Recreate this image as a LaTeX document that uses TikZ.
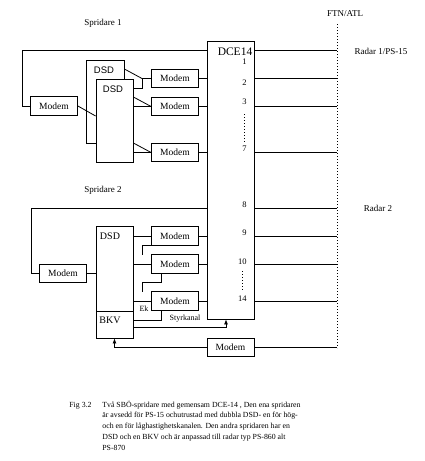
\documentclass[tikz,border=0pt]{standalone}
\usepackage{fontspec}
\setmainfont{Liberation Serif}
\newfontfamily\dsdfont{Liberation Sans}
\usetikzlibrary{arrows.meta}

\begin{document}
\begin{tikzpicture}[
  x=1pt, y=-1pt,
  line width=0.8pt,
  box/.style={draw, fill=white, inner sep=0pt},
  modem/.style={box, minimum width=47pt, minimum height=18.5pt, font=\fontsize{9.5}{10}\selectfont},
  lbl/.style={inner sep=0pt, font=\fontsize{9}{10}\selectfont},
  boxtitle/.style={inner sep=0pt, font=\fontsize{10}{11}\selectfont},
  num/.style={anchor=east, inner sep=0pt, font=\fontsize{8.5}{9}\selectfont},
  smalltext/.style={inner sep=0pt, font=\fontsize{8}{9}\selectfont},
  captext/.style={anchor=base west, inner sep=0pt, font=\fontsize{7.8}{9}\selectfont},
  dotline/.style={dash pattern=on 1pt off 2pt},
  >={Latex[length=5pt,width=4pt]}
]
  \useasboundingbox (0,0) rectangle (425,461);

  % DCE-14 and the FTN/ATL boundary
  \node[box, minimum width=47pt, minimum height=278pt] (dce) at (230.5,180) {};
  \node[inner sep=0pt, font=\fontsize{11.5}{12}\selectfont] (dcename) at (235,52) {DCE14};
  \coordinate (ftntop) at (337,24);
  \coordinate (ftnbot) at (337,348);
  \draw[dotline] (ftntop) -- (ftnbot);
  \node[lbl] (ftn) at (345,14) {FTN/ATL};
  \node[lbl] (radar1) at (381,51) {Radar 1/PS-15};
  \node[lbl] (radar2) at (378,208) {Radar 2};

  % Channel numbers
  \foreach \n/\y in {1/62, 2/83, 3/102, 7/149, 8/205, 9/233, 10/262, 14/299} {
    \node[num] (ch\n) at (247,\y) {\n};
  }
  \draw[dotline, shorten <=9pt, shorten >=4pt] (ch3) -- (ch7);
  \draw[dotline, shorten <=6pt, shorten >=5pt] (ch10) -- (ch14);

  % Spridare 1
  \node[lbl] (sp1) at (103,23) {Spridare 1};
  \node[box, minimum width=38pt, minimum height=83pt] (dsdb) at (105,101.5) {};
  \node[inner sep=0pt, font=\dsdfont\fontsize{9.5}{10}\selectfont] (dsdbname) at (104,70) {DSD};
  \node[box, minimum width=37pt, minimum height=83pt] (dsdf) at (114.5,120.5) {};
  \node[inner sep=0pt, font=\dsdfont\fontsize{9.5}{10}\selectfont] (dsdfname) at (113,89) {DSD};
  \node[modem] (mdm1) at (54,106) {Modem};

  % Modems next to the DCE
  \foreach \m/\y in {A/78.5, B/106.5, C/152.5, D/236, E/264, F/301} {
    \node[modem] (mdm\m) at (175,\y) {Modem};
  }

  \coordinate (loop1) at (22,50);
  \draw (mdm1.west) -| (loop1) -- (loop1 -| dce.west);
  \draw (mdm1.east) -- (dsdf.west |- 0,116);
  \coordinate (jA) at (142,78.5);
  \draw (dsdb.east |- 0,69) -- (jA) -- (mdmA.west);
  \draw (dsdf.east |- 0,88) -| (jA);
  \draw (dsdf.east |- 0,97) -- (mdmB.west);
  \draw (dsdf.east |- mdmB) -- (mdmB.west);
  \draw (dsdf.east |- 0,143) -- (mdmC.west);
  \draw (dsdf.east |- mdmC) -- (mdmC.west);

  % Spridare 2
  \node[lbl] (sp2) at (103,190) {Spridare 2};
  \node[modem] (mdm2) at (63,273.5) {Modem};
  \node[box, minimum width=37pt, minimum height=85pt] (dsd2) at (114.5,268.5) {};
  \node[boxtitle] (dsd2name) at (110,236) {DSD};
  \node[box, minimum width=37pt, minimum height=27pt] (bkv) at (114.5,324.5) {};
  \node[boxtitle] (bkvname) at (110,320) {BKV};

  \coordinate (loop2) at (31,208);
  \draw (mdm2.west) -| (loop2) -- (loop2 -| dce.west);
  \draw (mdm2.east) -- (mdm2 -| dsd2.west);
  \foreach \m in {D,E,F} {
    \draw (dsd2.east |- mdm\m) -- (mdm\m.west);
  }
  \coordinate (stubD) at (142,255);
  \coordinate (stubE) at (142,292);
  \draw (mdmD.south west) -| (stubD);
  \draw (161,0 |- mdmE.south) |- (stubE |- 0,282) -- (stubE);
  \draw (161,0 |- mdmF.south) |- (bkv.east |- 0,320);
  \node[smalltext] (ek) at (144,309) {Ek};
  \node[smalltext] (styr) at (185,319) {Styrkanal};
  \draw[->] (bkv.east |- 0,327.5) -| (226,0 |- dce.south);

  \node[modem] (mdmG) at (230.5,347.5) {Modem};
  \draw (mdmG.east) -- (ftntop |- mdmG);
  \draw[->] (mdmG.west) -| (bkv.south);

  % Modems to DCE, DCE to FTN/ATL
  \foreach \m in {A,B,C,D,E,F} {
    \draw (mdm\m.east) -- (mdm\m -| dce.west);
  }
  \foreach \y in {50,78.5,106.5,152.5,208,236,264,301} {
    \draw (dce.east |- 0,\y) -- (ftntop |- 0,\y);
  }

  % Caption
  \node[captext] (fig) at (69,407) {Fig 3.2};
  \foreach \t [count=\i] in {{Två SBÖ-spridare med gemensam DCE-14 , Den ena spridaren},
      {är avsedd för PS-15 ochutrustad med dubbla DSD- en för hög-},
      {och en för låghastighetskanalen. Den andra spridaren har en},
      {DSD och en BKV och är anpassad till radar typ PS-860 alt},
      {PS-870}} {
    \node[captext] (cap\i) at (102,{396.2+10.8*\i}) {\t};
  }
\end{tikzpicture}
\end{document}
